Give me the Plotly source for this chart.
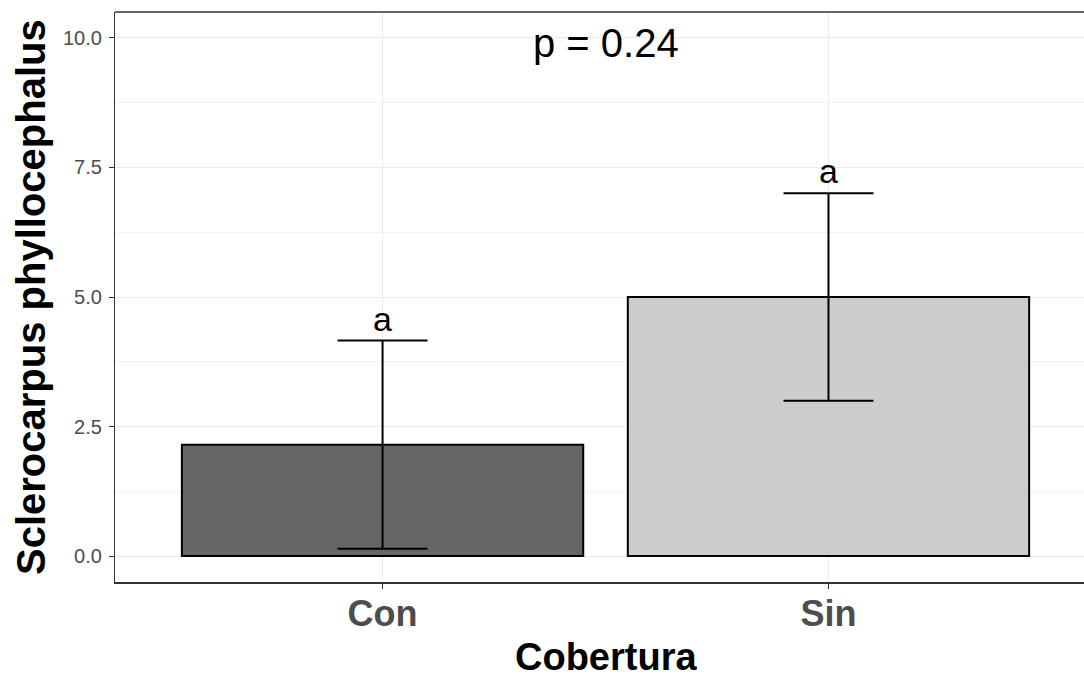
import plotly.graph_objects as go

categories = ["Con", "Sin"]
means = [2.15, 5.0]
sds = [2.01, 2.0]
letters = ["a", "a"]
bar_colors = ["#666666", "#CCCCCC"]
p_label = "p = 0.24"
y_ticks = [0.0, 2.5, 5.0, 7.5, 10.0]
y_ticktext = ["0.0", "2.5", "5.0", "7.5", "10.0"]
x_title = "Cobertura"
y_title = "Sclerocarpus phyllocephalus"

FONT = "Liberation Sans, Arial, sans-serif"
xpos = list(range(len(categories)))

fig = go.Figure()
fig.add_trace(go.Bar(
    x=xpos, y=means, width=0.9,
    marker=dict(color=bar_colors, line=dict(color="black", width=2)),
    error_y=dict(type="data", array=sds, visible=True, color="black", thickness=2, width=45),
    showlegend=False, hoverinfo="skip",
))

annotations = []
for i, (m, s, l) in enumerate(zip(means, sds, letters)):
    annotations.append(dict(x=i, y=m + s, text=l, showarrow=False, yanchor="bottom",
                            yshift=1, font=dict(family=FONT, size=34, color="black")))
annotations.append(dict(x=0.5, y=9.9, text=p_label, showarrow=False, yanchor="middle",
                        font=dict(family=FONT, size=40, color="black")))
annotations.append(dict(x=0.5, xref="x", y=-0.1316, yref="paper", text=f"<b>{x_title}</b>",
                        showarrow=False, yanchor="middle", height=30, valign="middle",
                        font=dict(family=FONT, size=38, color="black")))
annotations.append(dict(x=0, xref="paper", xshift=-84, xanchor="center", y=0.5, yref="paper",
                        text=f"<b>{y_title}</b>", showarrow=False, textangle=-90,
                        font=dict(family=FONT, size=40, color="black")))

fig.update_layout(
    width=1084, height=676,
    margin=dict(l=115, r=0, t=12, b=94),
    paper_bgcolor="white", plot_bgcolor="white",
    bargap=0.1,
    annotations=annotations,
    shapes=[dict(type="line", xref="paper", yref="paper", x0=0, x1=1.01, y0=1, y1=1,
                 line=dict(color="#333333", width=1.3))],
)
fig.update_xaxes(
    range=[-0.6, 1.573], tickvals=xpos, ticktext=[f"<b>{c}</b>" for c in categories],
    tickfont=dict(family=FONT, size=36, color="#4D4D4D"),
    ticks="outside", ticklen=5, tickcolor="#333333", tickwidth=1.3,
    ticklabelstandoff=-6,
    showgrid=True, gridcolor="#EBEBEB", gridwidth=1.3,
    showline=True, linecolor="#333333", linewidth=2, zeroline=False,
)
fig.update_yaxes(
    range=[-0.5, 10.5], tickvals=y_ticks, ticktext=y_ticktext,
    tickfont=dict(family=FONT, size=20, color="#4D4D4D"),
    ticks="outside", ticklen=5, tickcolor="#333333", tickwidth=1.3,
    ticklabelstandoff=3,
    showgrid=True, gridcolor="#EBEBEB", gridwidth=1.3,
    minor=dict(tickvals=[1.25, 3.75, 6.25, 8.75], showgrid=True, gridcolor="#F2F2F2",
               gridwidth=0.8, ticks=""),
    showline=True, linecolor="#333333", linewidth=1.3, zeroline=False,
)

fig.write_html(
    "out.html",
    config={"displayModeBar": False},
    post_script="document.body.style.margin='0';document.documentElement.style.overflow='hidden';document.body.style.overflow='hidden';",
)
